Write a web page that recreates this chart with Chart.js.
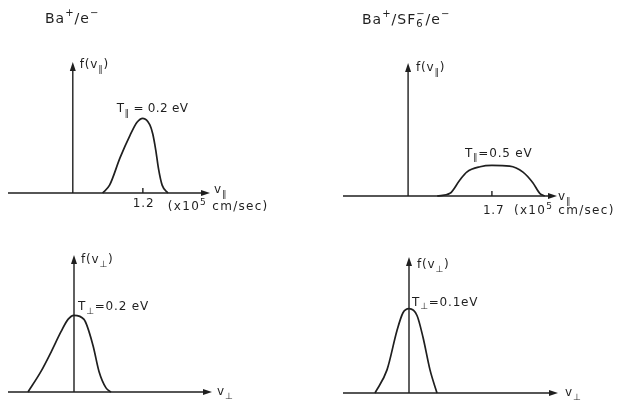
<!DOCTYPE html>
<html lang="en">
<head>
<meta charset="UTF-8">
<title>Velocity distributions</title>
<script src="https://cdn.jsdelivr.net/npm/chart.js"></script>
<style>
  body { margin: 0; background: #fff; }
  .panel { position: absolute; }
</style>
</head>
<body>
<div class="panel" style="left:0;top:0"><canvas id="tl" width="300" height="220"></canvas></div>
<div class="panel" style="left:300px;top:0"><canvas id="tr" width="325" height="220"></canvas></div>
<div class="panel" style="left:0;top:220px"><canvas id="bl" width="300" height="187"></canvas></div>
<div class="panel" style="left:300px;top:220px"><canvas id="br" width="325" height="187"></canvas></div>

<script>
// f(v_par) for Ba+/e- (v in 1e5 cm/s, f normalised to axis height)
const parBaV = [0.51, 0.63, 0.81, 0.98, 1.10, 1.20, 1.32, 1.37, 1.42, 1.47, 1.53, 1.63];
const parBaF = [0, 0.06, 0.27, 0.44, 0.54, 0.57, 0.52, 0.45, 0.33, 0.18, 0.06, 0];

// f(v_par) for Ba+/SF6-/e-
const parSfV = [0.59, 0.85, 1.05, 1.19, 1.46, 1.70, 2.06, 2.33, 2.53, 2.67, 2.77];
const parSfF = [0, 0.02, 0.12, 0.18, 0.22, 0.23, 0.225, 0.18, 0.10, 0.02, 0];

// f(v_perp), arbitrary velocity units
const perpBaV = [-0.92, -0.66, -0.46, -0.26, -0.12, 0, 0.20, 0.38, 0.50, 0.64, 0.74];
const perpBaF = [0, 0.15, 0.29, 0.44, 0.53, 0.56, 0.53, 0.34, 0.15, 0.03, 0];

const perpSfV = [-0.68, -0.44, -0.24, -0.12, 0, 0.16, 0.28, 0.42, 0.56];
const perpSfF = [0, 0.17, 0.46, 0.59, 0.62, 0.57, 0.41, 0.17, 0];

// tick marks on the parallel axes
const parBaTick = 1.2;
const parSfTick = 1.7;

const INK = '#1f1f1f';
const FONT = '"DejaVu Sans", "Liberation Sans", sans-serif';

// parts: [text, kind] kind = '' | 'sub' | 'sup' | 'subsup' (text is [sub, sup])
function drawRich(ctx, parts, x, y, size, spacing) {
    const small = Math.round(size * 0.72);
    ctx.save();
    ctx.fillStyle = INK;
    ctx.textBaseline = 'middle';
    ctx.textAlign = 'left';
    ctx.letterSpacing = (spacing === undefined ? 0.8 : spacing) + 'px';
    let cx = x;
    parts.forEach(([t, kind]) => {
        if (!kind) {
            ctx.font = size + 'px ' + FONT;
            ctx.fillText(t, cx, y);
            cx += ctx.measureText(t).width;
        } else if (kind === 'sub') {
            ctx.font = small + 'px ' + FONT;
            ctx.fillText(t, cx, y + size * 0.35);
            cx += ctx.measureText(t).width;
        } else if (kind === 'sup') {
            ctx.font = small + 'px ' + FONT;
            ctx.fillText(t, cx, y - size * 0.4);
            cx += ctx.measureText(t).width;
        } else {
            ctx.font = small + 'px ' + FONT;
            ctx.fillText(t[0], cx, y + size * 0.35);
            ctx.fillText(t[1], cx, y - size * 0.4);
            cx += Math.max(ctx.measureText(t[0]).width, ctx.measureText(t[1]).width);
        }
    });
    ctx.restore();
}

function arrowHead(ctx, x, y, dir) {
    ctx.beginPath();
    if (dir === 'right') {
        ctx.moveTo(x, y); ctx.lineTo(x - 9, y - 3); ctx.lineTo(x - 9, y + 3);
    } else {
        ctx.moveTo(x, y); ctx.lineTo(x - 3, y + 9); ctx.lineTo(x + 3, y + 9);
    }
    ctx.closePath();
    ctx.fill();
}

// label drawers kept outside chart options (functions there are treated as scriptable)
const labelDrawers = {};
const panelTicks = {};

const axesPlugin = {
    id: 'axesPlugin',
    afterDraw(chart) {
        const { ctx, chartArea: a, scales } = chart;
        const id = chart.canvas.id;
        const x0 = scales.x.getPixelForValue(0);
        const y0 = scales.y.getPixelForValue(0);
        ctx.save();
        ctx.strokeStyle = INK;
        ctx.fillStyle = INK;
        ctx.lineWidth = 1.4;
        ctx.beginPath();
        ctx.moveTo(a.left, y0); ctx.lineTo(a.right - 4, y0);
        ctx.moveTo(x0, y0); ctx.lineTo(x0, a.top + 4);
        ctx.stroke();
        arrowHead(ctx, a.right, y0, 'right');
        arrowHead(ctx, x0, a.top, 'up');
        if (panelTicks[id] !== undefined) {
            const tx = scales.x.getPixelForValue(panelTicks[id]);
            ctx.beginPath();
            ctx.moveTo(tx, y0 - 5); ctx.lineTo(tx, y0);
            ctx.stroke();
        }
        ctx.restore();
        labelDrawers[id](ctx, { x0, y0, a, sx: scales.x, sy: scales.y });
    }
};

function makePanel(id, vs, fs, xMin, xMax, padding, tick, draw) {
    labelDrawers[id] = draw;
    panelTicks[id] = tick;
    return new Chart(document.getElementById(id), {
        type: 'line',
        data: {
            datasets: [{
                data: vs.map((v, i) => ({ x: v, y: fs[i] })),
                borderColor: INK,
                borderWidth: 1.7,
                pointRadius: 0,
                cubicInterpolationMode: 'monotone',
                fill: false,
                clip: false
            }]
        },
        options: {
            responsive: false,
            animation: false,
            devicePixelRatio: 1,
            layout: { padding },
            scales: {
                x: { type: 'linear', min: xMin, max: xMax, display: false },
                y: { min: 0, max: 1, display: false }
            },
            plugins: {
                legend: { display: false },
                tooltip: { enabled: false }
            }
        },
        plugins: [axesPlugin]
    });
}

const PAR = '\u2225';
const PERP = '\u22a5';

makePanel('tl', parBaV, parBaF, -1.11, 2.35,
    { left: 8, right: 90, top: 62, bottom: 27 }, parBaTick,
    (ctx, p) => {
        const tx = p.sx.getPixelForValue(parBaTick);
        const peakY = p.sy.getPixelForValue(Math.max(...parBaF));
        drawRich(ctx, [['Ba', ''], ['+', 'sup'], ['/e', ''], ['\u2212', 'sup']], 45, 19, 14, 1);
        drawRich(ctx, [['f(v', ''], [PAR, 'sub'], [')', '']], p.x0 + 7, p.a.top + 3, 12);
        drawRich(ctx, [['T', ''], [PAR, 'sub'], [' = 0.2 eV', '']], tx - 26, peakY - 9, 12, 0.3);
        drawRich(ctx, [['v', ''], [PAR, 'sub']], p.a.right + 4, p.y0 - 3, 12);
        drawRich(ctx, [['1.2', '']], tx - 10, p.y0 + 11, 12);
        drawRich(ctx, [['(x10', ''], ['5', 'sup'], [' cm/sec)', '']], tx + 25, p.y0 + 14, 12, 1.3);
    });

makePanel('tr', parSfV, parSfF, -1.32, 3.02,
    { left: 43, right: 68, top: 63, bottom: 24 }, parSfTick,
    (ctx, p) => {
        const tx = p.sx.getPixelForValue(parSfTick);
        const peakY = p.sy.getPixelForValue(Math.max(...parSfF));
        drawRich(ctx, [['Ba', ''], ['+', 'sup'], ['/SF', ''], [['6', '\u2212'], 'subsup'], ['/e', ''], ['\u2212', 'sup']], 62, 20, 14, 1);
        drawRich(ctx, [['f(v', ''], [PAR, 'sub'], [')', '']], p.x0 + 8, p.a.top + 5, 12);
        drawRich(ctx, [['T', ''], [PAR, 'sub'], ['=0.5 eV', '']], tx - 27, peakY - 12, 12);
        drawRich(ctx, [['v', ''], [PAR, 'sub']], p.a.right + 1, p.y0 + 1, 12);
        drawRich(ctx, [['1.7', '']], tx - 9, p.y0 + 15, 12);
        drawRich(ctx, [['(x10', ''], ['5', 'sup'], [' cm/sec)', '']], tx + 22, p.y0 + 15, 12, 1.3);
    });

makePanel('bl', perpBaV, perpBaF, -1.32, 2.76,
    { left: 8, right: 88, top: 35, bottom: 15 }, undefined,
    (ctx, p) => {
        const peakY = p.sy.getPixelForValue(Math.max(...perpBaF));
        drawRich(ctx, [['f(v', ''], [PERP, 'sub'], [')', '']], p.x0 + 7, p.a.top + 5, 12);
        drawRich(ctx, [['T', ''], [PERP, 'sub'], ['=0.2 eV', '']], p.x0 + 4, peakY - 8, 12);
        drawRich(ctx, [['v', ''], [PERP, 'sub']], p.a.right + 5, p.y0, 12);
    });

makePanel('br', perpSfV, perpSfF, -1.32, 2.98,
    { left: 43, right: 67, top: 37, bottom: 14 }, undefined,
    (ctx, p) => {
        const peakY = p.sy.getPixelForValue(Math.max(...perpSfF));
        drawRich(ctx, [['f(v', ''], [PERP, 'sub'], [')', '']], p.x0 + 8, p.a.top + 8, 12);
        drawRich(ctx, [['T', ''], [PERP, 'sub'], ['=0.1eV', '']], p.x0 + 3, peakY - 6, 12);
        drawRich(ctx, [['v', ''], [PERP, 'sub']], p.a.right + 7, p.y0, 12);
    });
</script>
</body>
</html>
